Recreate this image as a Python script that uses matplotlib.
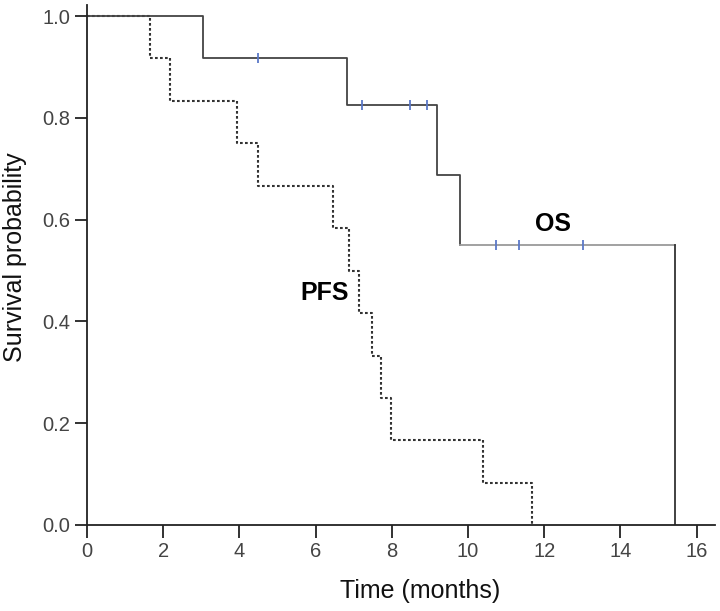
import matplotlib.pyplot as plt

plt.rcParams['font.family'] = ['Liberation Sans', 'DejaVu Sans']

# Kaplan-Meier step data
os_times = [0, 3.05, 6.82, 9.19, 9.79, 15.43]
os_surv = [1.0, 0.917, 0.825, 0.688, 0.55, 0.0]
os_censor_t = [4.49, 7.22, 8.48, 8.92, 10.73, 11.34, 13.02]
os_censor_s = [0.917, 0.825, 0.825, 0.825, 0.55, 0.55, 0.55]

pfs_times = [0, 1.65, 2.18, 3.94, 4.49, 6.46, 6.88, 7.14, 7.48, 7.72, 7.98, 10.39, 11.68]
pfs_surv = [1.0, 0.917, 0.833, 0.75, 0.667, 0.583, 0.5, 0.417, 0.333, 0.25, 0.167, 0.083, 0.0]

x_ticks = [0, 2, 4, 6, 8, 10, 12, 14, 16]
y_ticks = [0.0, 0.2, 0.4, 0.6, 0.8, 1.0]

fig = plt.figure(figsize=(7.2, 6.11), dpi=100)
ax = fig.add_axes([0.1208, 0.1408, 0.872, 0.851])

# PFS (dotted)
ax.step(pfs_times, pfs_surv, where='post', color='#333333', lw=1.5,
        linestyle=(0, (1.3, 1.1)))

# OS (solid), last plateau drawn lighter as in the original
ax.step(os_times[:-1], os_surv[:-1], where='post', color='#444444', lw=1.3)
ax.plot([os_times[-2], os_times[-1]], [os_surv[-2], os_surv[-2]], color='#9a9a9a', lw=1.3)
ax.plot([os_times[-1], os_times[-1]], [os_surv[-2], os_surv[-1]], color='#333333', lw=1.3)
ax.plot(os_censor_t, os_censor_s, linestyle='none', marker='|', ms=7, mew=1.3, color='#5a78c8')

ax.text(12.23, 0.591, 'OS', fontsize=18, fontweight='bold', ha='center', va='center')
ax.text(6.25, 0.456, 'PFS', fontsize=18, fontweight='bold', ha='center', va='center')

ax.set_xlim(0, 16.48)
ax.set_ylim(0, 1.022)
ax.set_xticks(x_ticks)
ax.set_yticks(y_ticks)
ax.set_yticklabels(['%.1f' % v for v in y_ticks])
ax.tick_params(direction='out', length=9, width=1.3, labelsize=14.5, colors='#222222',
               labelcolor='#444444', pad=3)
for s in ['top', 'right']:
    ax.spines[s].set_visible(False)
for s in ['left', 'bottom']:
    ax.spines[s].set_linewidth(1.3)
    ax.spines[s].set_color('#222222')

ax.set_xlabel('Time (months)', fontsize=18, color='#111111')
ax.xaxis.set_label_coords(0.53, -0.103)
ax.set_ylabel('Survival probability', fontsize=18, color='#111111')
ax.yaxis.set_label_coords(-0.095, 0.515)

fig.savefig('out.png', dpi=100)
